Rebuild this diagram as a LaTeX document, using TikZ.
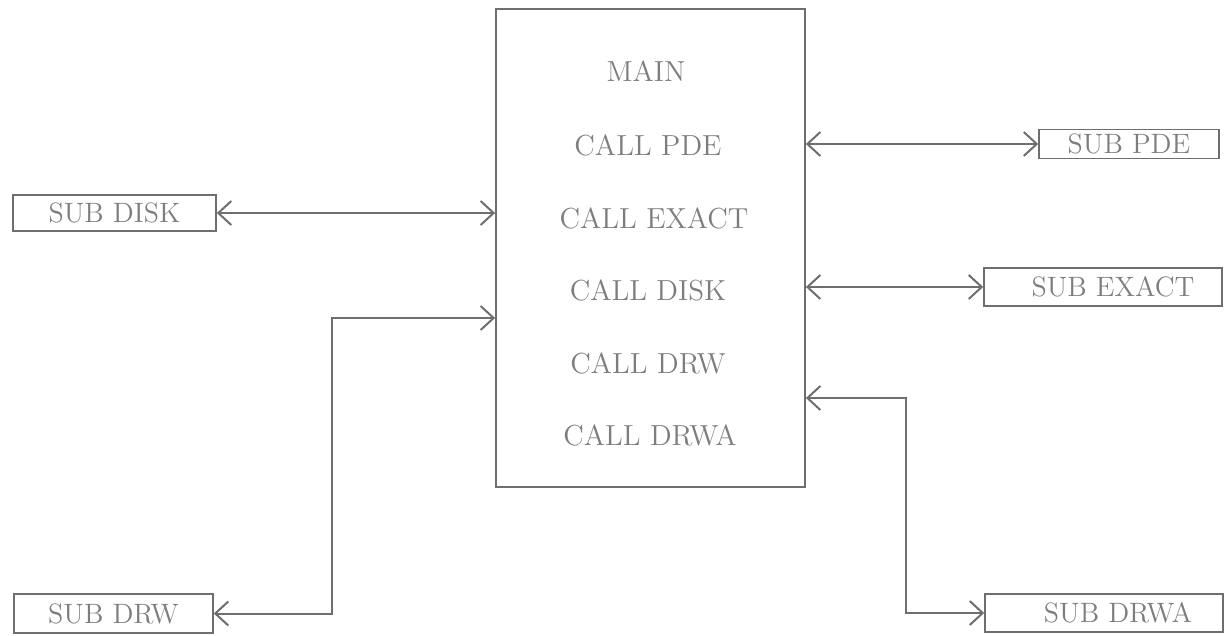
\documentclass[tikz,border=0pt]{standalone}
\usepackage{tikz}
\usetikzlibrary{arrows.meta}
\definecolor{lineGray}{RGB}{110,110,110}
\definecolor{textGray}{RGB}{125,125,125}

\begin{document}
\begin{tikzpicture}[x=0.5pt,y=-0.5pt]

          \tikzstyle{mainBox} = [draw=lineGray, line width=0.9pt, minimum width=154.5pt, minimum height=239pt, inner sep=0pt];
          \tikzstyle{subBox} = [draw=lineGray, line width=0.8pt, inner sep=0pt, text=textGray, font=\fontsize{14}{16}\selectfont];
          \tikzstyle{callNode} = [text=textGray, inner sep=0pt, font=\fontsize{14.5}{16}\selectfont];
          \tikzstyle{linkEdge} = [draw=lineGray, line width=1pt, {Straight Barb[length=6.5pt,width=12pt,line width=1pt]}-{Straight Barb[length=6.5pt,width=12pt,line width=1pt]}];

          \useasboundingbox (0,0) rectangle (1224,636);

          % main program
          \node[mainBox] (main) at (650.5,248) {};
          \node[callNode] (mainTitle) at (646,71) {MAIN};
          \node[callNode] (callPde) at (648,145) {CALL PDE};
          \node[callNode] (callExact) at (654,218) {CALL EXACT};
          \node[callNode] (callDisk) at (648,290) {CALL DISK};
          \node[callNode] (callDrw) at (648,363) {CALL DRW};
          \node[callNode] (callDrwa) at (650,435) {CALL DRWA};

          % subroutines
          \node[subBox, minimum width=101.5pt, minimum height=18pt] (subDisk) at (114.5,213) {SUB DISK};
          \node[subBox, minimum width=90pt, minimum height=14.5pt] (subPde) at (1129,144) {SUB PDE};
          \node[subBox, minimum width=119pt, minimum height=19pt] (subExact) at (1103,287) {\hspace{10pt}SUB EXACT};
          \node[subBox, minimum width=99.5pt, minimum height=19.5pt] (subDrw) at (113.5,613.5) {SUB DRW};
          \node[subBox, minimum width=119pt, minimum height=19pt] (subDrwa) at (1104,613) {\hspace{14pt}SUB DRWA};

          \coordinate (drwBend) at (332,318);
          \coordinate (drwaBend) at (906,398);

          \draw[linkEdge] (subDisk.east) -- (main.west |- subDisk.east);
          \draw[linkEdge] (main.east |- subPde.west) -- (subPde.west);
          \draw[linkEdge] (main.east |- subExact.west) -- (subExact.west);
          \draw[linkEdge] (subDrw.east) -| (drwBend) -- (main.west |- drwBend);
          \draw[linkEdge] (main.east |- drwaBend) -- (drwaBend) |- (subDrwa.west);
        \end{tikzpicture}
\end{document}
